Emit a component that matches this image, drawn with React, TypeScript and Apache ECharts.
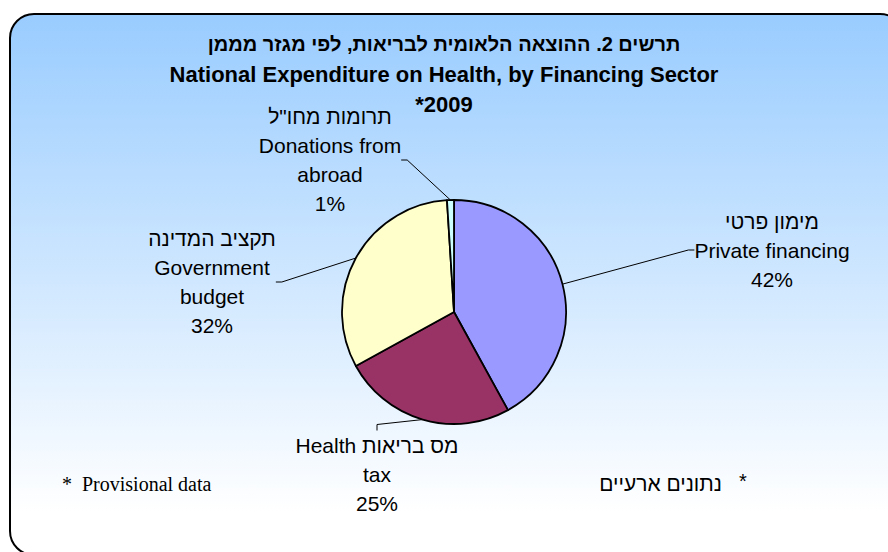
import React, { useEffect, useRef } from "react";
import * as echarts from "echarts";

const CATEGORIES = [
  "מימון פרטי\nPrivate financing",
  "Health מס בריאות\ntax",
  "תקציב המדינה\nGovernment\nbudget",
  "תרומות מחו\"ל\nDonations from\nabroad",
];
const VALUES = [42, 25, 32, 1];
const COLORS = ["#9999FF", "#993366", "#FFFFCC", "#CCFFFF"];
const TITLE_HE = "תרשים 2. ההוצאה הלאומית לבריאות, לפי מגזר מממן";
const TITLE_EN = "National Expenditure on Health, by Financing Sector";
const TITLE_YEAR = "*2009";
const FOOT_EN = "Provisional data";
const FOOT_HE = "נתונים ארעיים";

// label block centres (layout, not data)
const LABEL_POS: [number, number][] = [
  [772, 250],
  [377, 474],
  [212, 282],
  [330, 160],
];

const SANS = "'Liberation Sans', Arial, 'DejaVu Sans', sans-serif";
const SERIF = "'Liberation Serif', 'Times New Roman', serif";

export default function App() {
  const ref = useRef<HTMLDivElement>(null);
  useEffect(() => {
    if (!ref.current) return;
    const chart = echarts.init(ref.current, null, { renderer: "svg" });
    chart.setOption({
      animation: false,
      backgroundColor: "#FFFFFF",
      title: {
        text: `{he|${TITLE_HE}}\n{en|${TITLE_EN}}\n{en|${TITLE_YEAR}}`,
        left: "center",
        top: 29,
        padding: [0, 0, 0, 10],
        textStyle: {
          fontFamily: SANS,
          fontWeight: "bold",
          fontSize: 22,
          lineHeight: 30,
          color: "#000",
          rich: {
            he: { fontFamily: SANS, fontWeight: "bold", fontSize: 20, lineHeight: 30, color: "#000" },
            en: { fontFamily: SANS, fontWeight: "bold", fontSize: 22, lineHeight: 30, color: "#000" },
          },
        },
      },
      graphic: [
        {
          type: "rect",
          z: -10,
          silent: true,
          shape: { x: 10, y: 14, width: 894, height: 541, r: 24 },
          style: {
            fill: new echarts.graphic.LinearGradient(0, 0, 0, 1, [
              { offset: 0, color: "#99CCFF" },
              { offset: 0.92, color: "#FFFFFF" },
              { offset: 1, color: "#FFFFFF" },
            ]),
            stroke: "#000",
            lineWidth: 2,
          },
        },
        {
          type: "text",
          x: 62,
          y: 484,
          style: { text: "*", font: `20px ${SERIF}`, fill: "#000", verticalAlign: "middle" },
        },
        {
          type: "text",
          x: 82,
          y: 484,
          style: { text: FOOT_EN, font: `20px ${SERIF}`, fill: "#000", verticalAlign: "middle" },
        },
        {
          type: "text",
          x: 722,
          y: 483,
          style: { text: FOOT_HE, font: `21px ${SANS}`, fill: "#000", align: "right", verticalAlign: "middle" },
        },
        {
          type: "text",
          x: 739,
          y: 481,
          style: { text: "*", font: `20px ${SANS}`, fill: "#000", verticalAlign: "middle" },
        },
      ],
      series: [
        {
          type: "pie",
          center: [454, 312],
          radius: 112,
          startAngle: 90,
          clockwise: true,
          avoidLabelOverlap: false,
          silent: true,
          data: CATEGORIES.map((name, i) => ({
            name,
            value: VALUES[i],
            itemStyle: { color: COLORS[i] },
          })),
          itemStyle: { borderColor: "#000", borderWidth: 1.8 },
          label: {
            show: true,
            position: "outside",
            color: "#000",
            fontFamily: SANS,
            fontSize: 21,
            lineHeight: 29,
            formatter: (p: any) => `${p.name}\n${Math.round(p.percent)}%`,
          },
          labelLine: {
            show: true,
            length: 20,
            length2: 6,
            lineStyle: { color: "#000", width: 1 },
          },
          labelLayout: (params: any) => {
            const p = LABEL_POS[params.dataIndex];
            return { x: p[0], y: p[1], align: "center", verticalAlign: "middle" };
          },
          emphasis: { disabled: true },
        },
      ],
    });
    return () => chart.dispose();
  }, []);
  return (
    <div
      ref={ref}
      style={{ position: "fixed", left: 0, top: 0, width: 888, height: 552 }}
    />
  );
}
